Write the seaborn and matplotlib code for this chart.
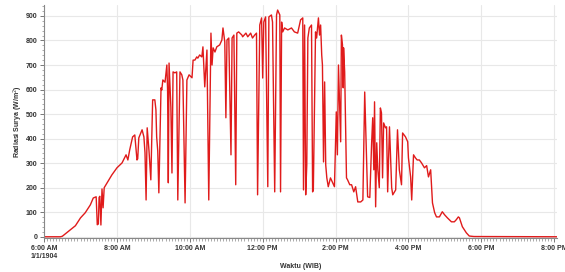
import numpy as np
import pandas as pd
import matplotlib
matplotlib.use("Agg")
import matplotlib.pyplot as plt
import matplotlib.dates as mdates
from matplotlib.ticker import MultipleLocator, FixedLocator
import seaborn as sns

# time of day in decimal hours
hours = [6.00, 6.31, 6.45, 6.50, 6.72, 6.86, 7.00, 7.13, 7.27, 7.35, 7.43, 7.46, 7.49, 7.51,
         7.53, 7.56, 7.59, 7.62, 7.65, 7.73, 7.86, 8.00, 8.14, 8.25, 8.30, 8.35, 8.43, 8.49,
         8.55, 8.57, 8.60, 8.69, 8.74, 8.77, 8.80, 8.83, 8.88, 8.93, 8.98, 9.04, 9.07, 9.09,
         9.12, 9.15, 9.21, 9.23, 9.26, 9.32, 9.37, 9.39, 9.41, 9.43, 9.48, 9.51, 9.54, 9.59,
         9.64, 9.67, 9.73, 9.78, 9.81, 9.87, 9.92, 9.98, 10.06, 10.09, 10.14, 10.19, 10.22,
         10.27, 10.33, 10.36, 10.41, 10.47, 10.52, 10.58, 10.61, 10.64, 10.69, 10.74, 10.82,
         10.88, 10.91, 10.96, 10.99, 11.02, 11.07, 11.13, 11.16, 11.21, 11.26, 11.29, 11.34,
         11.43, 11.45, 11.54, 11.59, 11.67, 11.72, 11.78, 11.83, 11.86, 11.92, 11.97, 12.00,
         12.03, 12.08, 12.14, 12.17, 12.24, 12.27, 12.33, 12.38, 12.41, 12.47, 12.49, 12.52,
         12.55, 12.60, 12.69, 12.79, 12.87, 12.96, 13.04, 13.10, 13.12, 13.15, 13.18, 13.21,
         13.24, 13.28, 13.34, 13.37, 13.39, 13.45, 13.48, 13.53, 13.56, 13.59, 13.62, 13.64,
         13.67, 13.70, 13.73, 13.76, 13.80, 13.86, 13.91, 13.97, 14.02, 14.05, 14.08, 14.14,
         14.16, 14.19, 14.21, 14.22, 14.25, 14.30, 14.33, 14.39, 14.44, 14.50, 14.55, 14.61,
         14.69, 14.75, 14.80, 14.85, 14.88, 14.94, 14.99, 15.02, 15.05, 15.07, 15.10, 15.13,
         15.16, 15.20, 15.23, 15.26, 15.29, 15.32, 15.37, 15.40, 15.43, 15.48, 15.54, 15.57,
         15.65, 15.70, 15.75, 15.81, 15.84, 15.92, 15.98, 16.00, 16.06, 16.09, 16.14, 16.19,
         16.24, 16.30, 16.36, 16.44, 16.50, 16.55, 16.61, 16.66, 16.72, 16.77, 16.85, 16.93,
         16.99, 17.07, 17.18, 17.26, 17.31, 17.37, 17.40, 17.48, 17.59, 17.67, 17.80, 20.08]

# solar radiation (W/m^2)
radiation = [0, 0, 0, 2, 28, 45, 77, 98, 130, 158, 163, 49, 52, 160,
             165, 48, 195, 118, 200, 220, 252, 281, 301, 334, 313, 354, 407, 415,
             313, 318, 403, 436, 407, 342, 150, 444, 350, 232, 558, 558, 517, 407,
             350, 179, 607, 598, 639, 630, 700, 598, 220, 708, 529, 260, 672, 668,
             672, 150, 672, 660, 639, 138, 639, 660, 648, 720, 720, 733, 728,
             741, 733, 774, 611, 761, 150, 830, 700, 770, 753, 774, 782,
             802, 851, 794, 485, 802, 810, 334, 810, 822, 212, 830, 835,
             822, 815, 830, 815, 830, 810, 822, 830, 171, 863, 892, 647,
             875, 896, 204, 896, 904, 875, 183, 904, 924, 904, 183, 875,
             835, 851, 843, 851, 835, 830, 884, 892, 191, 863, 171, 293,
             810, 851, 863, 183, 191, 835, 810, 892, 822, 863, 741, 700,
             305, 631, 293, 240, 204, 240, 224, 204, 509, 334, 700, 387,
             822, 782, 607, 770, 672, 240, 232, 212, 212, 183, 204, 142,
             142, 150, 590, 313, 163, 160, 383, 485, 273, 550, 122, 383,
             273, 200, 525, 505, 240, 464, 444, 448, 183, 448, 200, 171,
             191, 436, 273, 212, 423, 407, 387, 322, 244, 150, 334, 322,
             313, 313, 301, 281, 290, 244, 273, 138, 98, 81, 81, 102,
             90, 77, 61, 61, 69, 81, 77, 41, 16, 3, 1, 0]

tick_hours = [6, 8, 10, 12, 14, 16, 18, 20]
tick_labels = ["6:00 AM\n1/1/1904", "8:00 AM", "10:00 AM", "12:00 PM",
               "2:00 PM", "4:00 PM", "6:00 PM", "8:00 PM"]
y_ticks = [0, 100, 200, 300, 400, 500, 600, 700, 800, 900]

base = pd.Timestamp("1904-01-01")
df = pd.DataFrame({
    "Waktu": [base + pd.Timedelta(hours=h) for h in hours],
    "Radiasi": radiation,
})

sns.set_theme(style="white")
plt.rcParams["font.family"] = ["Liberation Sans", "DejaVu Sans"]

fig = plt.figure(figsize=(5.65, 2.72), dpi=100)
ax = fig.add_axes([0.078, 0.125, 0.908, 0.857])

sns.lineplot(data=df, x="Waktu", y="Radiasi", ax=ax, color="#e01b1b",
             linewidth=1.0, estimator=None)

def hnum(h):
    return mdates.date2num(base + pd.Timedelta(hours=h))

ax.xaxis.set_major_locator(FixedLocator([hnum(h) for h in tick_hours]))
ax.set_xticklabels(tick_labels)
minor = [mdates.date2num(base + pd.Timedelta(minutes=m)) for m in range(360, 1206, 5)]
ax.xaxis.set_minor_locator(FixedLocator(minor))
ax.set_xlim(hnum(6.0), hnum(20.08))

ax.set_yticks(y_ticks)
ax.yaxis.set_minor_locator(MultipleLocator(20))
ax.set_ylim(-5, 945)

ax.grid(True, which="major", color="#e8e8e8", linewidth=0.8)
for s in ["top", "right"]:
    ax.spines[s].set_visible(False)
for s in ["left", "bottom"]:
    ax.spines[s].set_color("#888888")
    ax.spines[s].set_linewidth(0.8)

ax.tick_params(axis="both", which="major", direction="out", length=3, width=0.7,
               color="#777777", labelsize=5, labelcolor="#333333", pad=2)
ax.tick_params(axis="both", which="minor", direction="out", length=1.8, width=0.5,
               color="#888888")
ax.tick_params(axis="x", which="both", bottom=True)
ax.tick_params(axis="y", which="both", left=True)
for lbl in ax.get_xticklabels():
    lbl.set_horizontalalignment("center")
    lbl.set_multialignment("left")
    lbl.set_fontweight("bold")
for lbl in ax.get_yticklabels():
    lbl.set_fontweight("bold")

ax.set_xlabel("Waktu (WIB)", fontsize=5, fontweight="bold", color="#333333", labelpad=2)
ax.set_ylabel("Radiasi Surya (W/m$^2$)", fontsize=5, fontweight="bold", color="#333333",
              labelpad=0.5)

fig.savefig("out.png", dpi=100)
